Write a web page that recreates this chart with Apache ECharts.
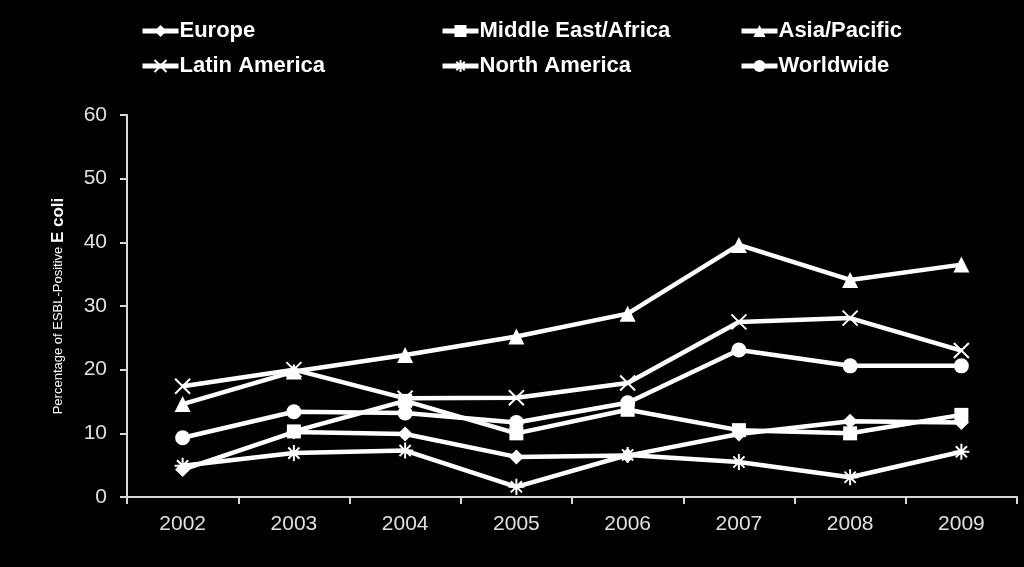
<!DOCTYPE html>
<html><head><meta charset="utf-8">
<script src="https://cdn.jsdelivr.net/npm/echarts@6/dist/echarts.min.js"></script>
<style>html,body{margin:0;padding:0;background:#000;}#c{width:1024px;height:567px;}</style>
</head><body><div id="c"></div>
<script>
const years = ['2002','2003','2004','2005','2006','2007','2008','2009'];
const europe = [4.3, 10.2, 9.9, 6.3, 6.5, 9.9, 11.9, 11.7];
const middleEastAfrica = [null, 10.3, 15.1, 10.0, 13.7, 10.5, 10.0, 12.9];
const asiaPacific = [14.6, 19.7, 22.3, 25.2, 28.8, 39.6, 34.1, 36.5];
const latinAmerica = [17.4, 20.0, 15.5, 15.6, 17.9, 27.5, 28.1, 23.0];
const northAmerica = [4.9, 6.9, 7.3, 1.6, 6.6, 5.5, 3.1, 7.1];
const worldwide = [9.3, 13.4, 13.2, 11.7, 14.8, 23.1, 20.6, 20.6];
const yTicks = {min: 0, max: 60, interval: 10};

const X_PATH = 'path://M0,0L10,10M10,0L0,10';
const STAR_PATH = 'path://M5,0L5,10M0,5L10,5M1.5,1.5L8.5,8.5M8.5,1.5L1.5,8.5';

function mk(name, data, symbol, size, stroke) {
  return {
    name, type: 'line', data, symbol, symbolSize: size,
    showSymbol: true, connectNulls: false,
    lineStyle: {color: '#fff', width: 4.5},
    itemStyle: stroke ? {color: 'rgba(0,0,0,0)', borderColor: '#fff', borderWidth: 2} : {color: '#fff', borderColor: '#fff', borderWidth: 0},
    emphasis: {disabled: true},
    animation: false
  };
}
const series = [
  mk('Europe', europe, 'diamond', 15),
  mk('Middle East/Africa', middleEastAfrica, 'rect', 14),
  mk('Asia/Pacific', asiaPacific, 'triangle', 16),
  mk('Latin America', latinAmerica, X_PATH, 15, true),
  mk('North America', northAmerica, STAR_PATH, 16, true),
  mk('Worldwide', worldwide, 'circle', 15)
];
const legendPos = [[135,15],[435,15],[734,15],[135,50],[435,50],[734,50]];
const legends = series.map((s,i) => ({
  data: [s.name], left: legendPos[i][0], top: legendPos[i][1],
  itemWidth: 36, itemHeight: 15, itemGap: 4,
  lineStyle: {width: 5},
  textStyle: {color: '#fff', fontSize: 22, fontWeight: 'bold', fontFamily: 'Liberation Sans, Arial', padding: [0,0,0,-4]},
  selectedMode: false
}));

const chart = echarts.init(document.getElementById('c'), null, {renderer: 'canvas'});
chart.setOption({
  backgroundColor: '#000',
  animation: false,
  legend: legends,
  grid: {left: 127, right: 7, top: 115, bottom: 70, containLabel: false},
  xAxis: {
    type: 'category', data: years, boundaryGap: true,
    axisLine: {lineStyle: {color: '#d9d9d9', width: 2}},
    axisTick: {show: true, length: 7, lineStyle: {color: '#d9d9d9', width: 2}, alignWithLabel: false},
    axisLabel: {color: '#e0e0e0', fontSize: 21, fontFamily: 'Liberation Sans, Arial', margin: 17}
  },
  yAxis: {
    type: 'value', min: yTicks.min, max: yTicks.max, interval: yTicks.interval,
    axisLine: {show: true, lineStyle: {color: '#d9d9d9', width: 2}},
    axisTick: {show: true, length: 7, lineStyle: {color: '#d9d9d9', width: 2}},
    splitLine: {show: false},
    axisLabel: {color: '#e0e0e0', fontSize: 21, fontFamily: 'Liberation Sans, Arial', margin: 20},
    name: '{a|Percentage of ESBL-Positive }{b|E coli}',
    nameLocation: 'middle', nameRotate: 90, nameGap: 60,
    nameTextStyle: {
      rich: {
        a: {color: '#fff', fontSize: 13, fontFamily: 'Liberation Sans, Arial'},
        b: {color: '#fff', fontSize: 17, fontWeight: 'bold', fontFamily: 'Liberation Sans, Arial'}
      }
    }
  },
  series
});
</script></body></html>
